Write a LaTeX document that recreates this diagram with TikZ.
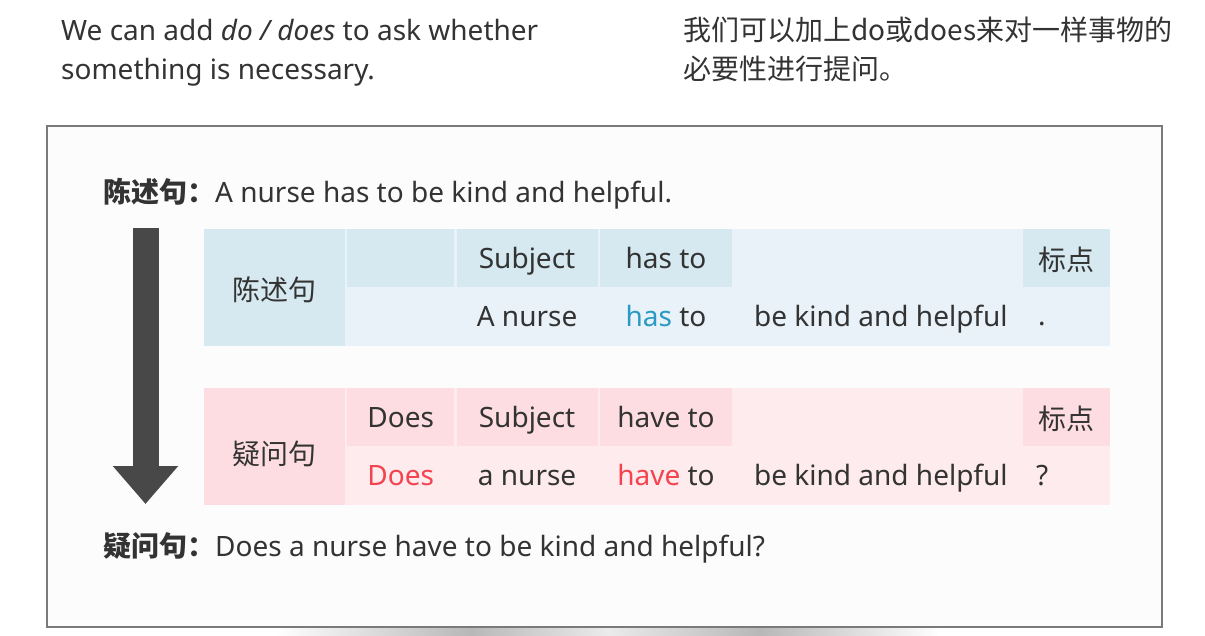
\documentclass[tikz,border=0pt]{standalone}
\usepackage{fontspec}
\setmainfont{Noto Sans}
\newfontfamily\cjk{Noto Sans CJK SC}
\usetikzlibrary{positioning,arrows.meta}
\definecolor{ink}{HTML}{333333}
\definecolor{bhd}{HTML}{D6E8F0}
\definecolor{bbg}{HTML}{E8F2F8}
\definecolor{phd}{HTML}{FDDDE1}
\definecolor{pbg}{HTML}{FEEBED}
\definecolor{hasc}{HTML}{2A9AC4}
\definecolor{doc}{HTML}{F4434F}
\definecolor{frm}{HTML}{7A7A7A}
\definecolor{arr}{HTML}{484848}
\tikzset{
  cell/.style={anchor=north west, minimum height=58pt, inner sep=0pt, text height=20pt, text depth=0pt},
  txt/.style={anchor=base west, inner sep=0pt},
  para/.style={anchor=north west, inner sep=0pt, align=left}}

\begin{document}
\begin{tikzpicture}[x=1pt, y=-1pt, font={\fontsize{28pt}{39pt}\selectfont}, text=ink]
\useasboundingbox (0,0) rectangle (1205,636);
% intro, English and Chinese
\node[para] (enA) at (61,19) {We can add \textit{do / does} to ask whether\\something is necessary.};
\node[para] (zhA) at (683,17) {\cjk 我们可以加上do或does来对一样事物的\\\cjk 必要性进行提问。};
% card with its shadow
\shade[left color=white, right color=black!28] (276,627) rectangle (470,636);
\shade[left color=black!28, right color=black!8] (470,627) rectangle (608,636);
\shade[left color=black!8, right color=black!28] (608,627) rectangle (760,636);
\shade[left color=black!28, right color=white] (760,627) rectangle (940,636);
\draw[frm, line width=1.3pt, fill=black!1] (47,126) rectangle (1162,627);
\node[txt] (stA) at (103,203) {{\cjk\bfseries 陈述句：}A nurse has to be kind and helpful.};
\node[txt] (stB) at (103,556) {{\cjk\bfseries 疑问句：}Does a nurse have to be kind and helpful?};
\coordinate (aTop) at (145.5,228);
\coordinate (aTip) at (145.5,504);
\draw[arr, line width=26pt, -{Triangle[width=63pt, length=38pt]}] (aTop) -- (aTip);
% statement table
\node[cell, fill=bhd, minimum width=141pt, minimum height=117pt, text height=26pt] (sA) at (204,229) {\cjk 陈述句};
\node[cell, fill=bbg, minimum width=765pt, minimum height=117pt] (bgA) at (345,229) {};
\node[cell, fill=bhd, minimum width=107pt] (hA1) at (347,229) {};
\node[cell, fill=bhd, minimum width=141pt, right=2pt of hA1] (hA2) {Subject};
\node[cell, fill=bhd, minimum width=132pt, right=2pt of hA2] (hA3) {has to};
\node[cell, fill=bhd, minimum width=87pt, text height=24pt] (hA5) at (1023,229) {\cjk 标点};
\node[cell, minimum width=141pt, below=0pt of hA2] (rA2) {A nurse};
\node[cell, minimum width=132pt, below=0pt of hA3] (rA3) {\textcolor{hasc}{has} to};
\node[cell, minimum width=291pt, right=0pt of rA3, xshift=3pt] (rA4) {be kind and helpful};
\node[txt] (rA5) at (1038,326) {.};
% question table
\node[cell, fill=phd, minimum width=141pt, minimum height=117pt, text height=35pt] (sB) at (204,388) {\cjk 疑问句};
\node[cell, fill=pbg, minimum width=765pt, minimum height=117pt] (bgB) at (345,388) {};
\node[cell, fill=phd, minimum width=107pt] (hB1) at (347,388) {Does};
\node[cell, fill=phd, minimum width=141pt, right=2pt of hB1] (hB2) {Subject};
\node[cell, fill=phd, minimum width=132pt, right=2pt of hB2] (hB3) {have to};
\node[cell, fill=phd, minimum width=87pt, text height=24pt] (hB5) at (1023,388) {\cjk 标点};
\node[cell, minimum width=107pt, below=0pt of hB1] (rB1) {\textcolor{doc}{Does}};
\node[cell, minimum width=141pt, below=0pt of hB2] (rB2) {a nurse};
\node[cell, minimum width=132pt, below=0pt of hB3] (rB3) {\textcolor{doc}{have} to};
\node[cell, minimum width=291pt, right=0pt of rB3, xshift=3pt] (rB4) {be kind and helpful};
\node[txt] (rB5) at (1036,485) {?};
\end{tikzpicture}
\end{document}
